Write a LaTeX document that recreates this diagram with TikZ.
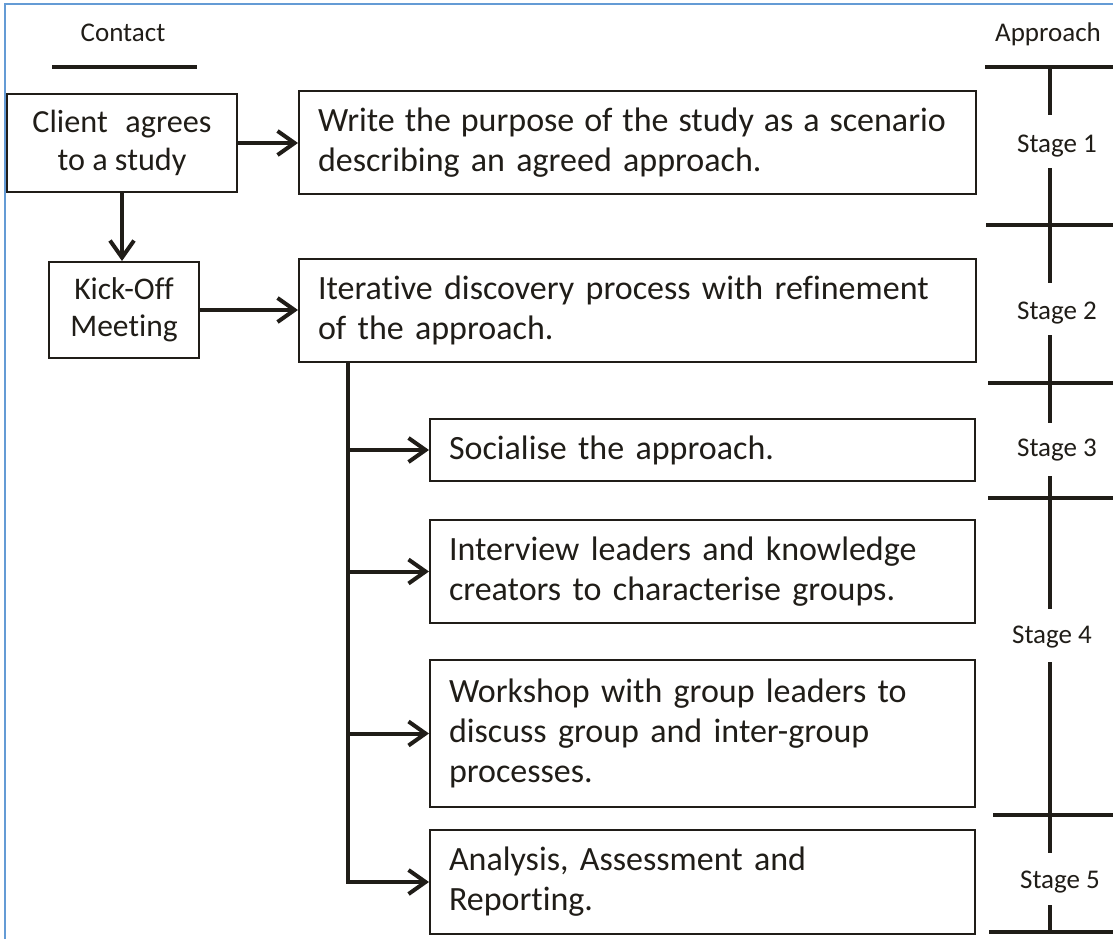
\documentclass[tikz,border=0pt]{standalone}
\usepackage{fontspec}
\setmainfont{Carlito}[Ligatures={NoCommon,NoContextual}]
\usetikzlibrary{arrows.meta}
\definecolor{ink}{RGB}{32,29,24}
\definecolor{frameblue}{RGB}{100,155,213}
\begin{document}
\begin{tikzpicture}[x=1pt,y=-1pt,
  box/.style={draw=ink, line width=2pt, rectangle, anchor=north west, inner sep=0pt, text=ink},
  leftbox/.style={box, align=center, font=\fontsize{31.5}{37}\selectfont},
  stepbox/.style={box, align=left, inner xsep=19pt, font=\fontsize{34}{40}\selectfont},
  flow/.style={draw=ink, line width=4pt, line join=miter,
    -{Straight Barb[length=17pt,width=24pt,line width=4pt]}},
  rule/.style={draw=ink, line width=4pt},
  label/.style={text=ink, font=\fontsize{27}{32}\selectfont, inner sep=0pt, anchor=base},
]
\useasboundingbox (0,0) rectangle (1113,939);
% frame edges
\draw[frameblue, line width=2pt] (5,939) -- (5,4) -- (1113,4);

% column headings
\node[label] (contact) at (123,42) {Contact};
\node[label] (approach) at (1048,42) {Approach};
\draw[rule] (52,67) -- (197,67);

% left-hand boxes
\node[leftbox, minimum width=230pt, minimum height=98pt, font=\fontsize{32.2}{38}\selectfont] (client) at (6,93)
  {Client\hspace{0.55em}agrees\\to a study};
\node[leftbox, minimum width=150pt, minimum height=96pt] (kick) at (48,261)
  {Kick-Off\\Meeting};

% activity boxes
\node[stepbox, minimum width=677pt, minimum height=103pt, text width=639pt] (purpose) at (298,90)
  {\mbox{\spaceskip=9.9pt Write the purpose of the study as a scenario}\\describing an agreed approach.};
\node[stepbox, minimum width=677pt, minimum height=103pt, text width=639pt] (iter) at (298,258)
  {\mbox{Iterative discovery process with refinement}\\of the approach.};
\node[stepbox, minimum width=545pt, minimum height=62pt, text width=507pt] (soc) at (429,418)
  {Socialise the approach.};
\node[stepbox, minimum width=545pt, minimum height=103pt, text width=507pt] (interview) at (429,519)
  {\mbox{Interview leaders and knowledge}\\\mbox{creators to characterise groups.}};
\node[stepbox, minimum width=545pt, minimum height=147pt, text width=507pt] (workshop) at (429,659)
  {\mbox{Workshop with group leaders to}\\\mbox{discuss group and inter-group}\\processes.};
\node[stepbox, minimum width=545pt, minimum height=104pt, text width=507pt] (analysis) at (429,829)
  {\mbox{Analysis, Assessment and}\\Reporting.};

% connectors
\draw[flow] (client.east) -- (client.east -| purpose.west);
\draw[flow] (client.south) -- (client.south |- kick.north);
\draw[flow] (kick.east) -- (kick.east -| iter.west);
\coordinate (trunk) at ([xshift=50pt]iter.south west);
\draw[flow] (trunk |- soc.west) -- (soc.west);
\draw[flow] (trunk |- interview.west) -- (interview.west);
\draw[flow] (trunk |- workshop.west) -- (workshop.west);
\draw[flow] (trunk) -- (trunk |- analysis.west) -- (analysis.west);

% stage scale
\node[label] (s1) at (1057,152) {Stage 1};
\node[label] (s2) at (1057,319) {Stage 2};
\node[label] (s3) at (1057,456) {Stage 3};
\node[label] (s4) at (1052,643) {Stage 4};
\node[label] (s5) at (1060,888) {Stage 5};
\draw[rule] (985,67) -- (1113,67);
\draw[rule] (986,225) -- (1113,225);
\draw[rule] (988,383) -- (1113,383);
\draw[rule] (988,498) -- (1113,498);
\draw[rule] (993,815) -- (1113,815);
\draw[rule] (989,932) -- (1113,932);
\draw[rule] (1050,67) -- (1050,115);
\draw[rule] (1050,168) -- (1050,283);
\draw[rule] (1050,335) -- (1050,423);
\draw[rule] (1050,476) -- (1050,609);
\draw[rule] (1050,662) -- (1050,853);
\draw[rule] (1050,905) -- (1050,932);
\end{tikzpicture}
\end{document}
